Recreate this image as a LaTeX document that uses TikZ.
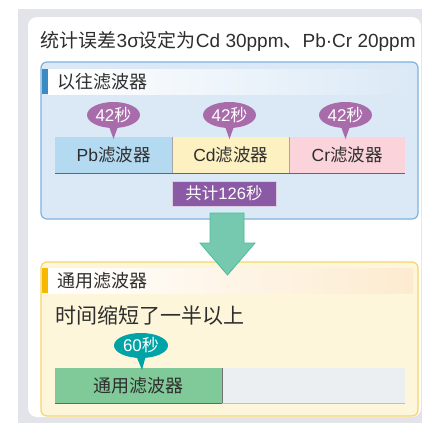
\documentclass[tikz,border=0pt]{standalone}
\usepackage{fontspec}
\setmainfont{Liberation Sans}
\newfontfamily\cjk{Noto Sans CJK SC}
\usetikzlibrary{calc,shapes.geometric}
\definecolor{graybg}{HTML}{E3E4E9}
\definecolor{txt}{HTML}{2E2E2E}
\definecolor{bluefill}{HTML}{DBE9F6}
\definecolor{blueedge}{HTML}{7FB2DE}
\definecolor{bluebar}{HTML}{3B8AC4}
\definecolor{bubpurple}{HTML}{A96CAA}
\definecolor{sumpurple}{HTML}{8B5AA5}
\definecolor{pbc}{HTML}{B4DAF2}
\definecolor{cdc}{HTML}{FDF1C2}
\definecolor{crc}{HTML}{FBD3DB}
\definecolor{arrowfill}{HTML}{76C9AE}
\definecolor{arrowedge}{HTML}{45BF97}
\definecolor{yelfill}{HTML}{FDF6DA}
\definecolor{yeledge}{HTML}{F6D56A}
\definecolor{yelbar}{HTML}{F7B900}
\definecolor{yelband}{HTML}{FDEBD0}
\definecolor{tealc}{HTML}{00A3A6}
\definecolor{greenbar}{HTML}{80C998}
\definecolor{restbar}{HTML}{ECEFF2}
\tikzset{
  barbox/.style={rectangle, anchor=north west, minimum height=36, inner sep=0pt, text=txt, font=\fontsize{17.5}{19}\selectfont},
  bubble/.style={ellipse, minimum width=53, minimum height=26, inner sep=0pt, text=white, font=\fontsize{17}{19}\selectfont},
  headtext/.style={anchor=west, inner sep=0pt, text=txt, font=\fontsize{18}{20}\selectfont\cjk},
}
\begin{document}
\begin{tikzpicture}[x=1pt,y=-1pt]
\useasboundingbox (0,0) rectangle (422,423);
\fill[graybg] (18,9) rectangle (422,423);
\fill[white, rounded corners=9pt] (28,17) rectangle (421,417);
% title
\node[anchor=west, inner sep=0pt, text=txt, font=\fontsize{19}{21}\selectfont] (title) at (40.5,41)
  {{\cjk 统计误差}3σ{\cjk 设定为}Cd 30ppm{\cjk 、}Pb·Cr 20ppm};
% blue box
\filldraw[fill=bluefill, draw=blueedge, line width=1.2pt, rounded corners=6pt] (41,62) rectangle (418,219);
\shade[left color=white, right color=bluefill] (48,69) rectangle (413,94);
\fill[bluebar] (41.6,69) rectangle (48,94);
\node[headtext] (h1) at (57,82) {以往滤波器};
% bars
\node[barbox, fill=pbc, minimum width=117] (pb) at (55,137) {Pb{\cjk 滤波器}};
\node[barbox, fill=cdc, minimum width=117] (cd) at (172,137) {Cd{\cjk 滤波器}};
\node[barbox, fill=crc, minimum width=116] (cr) at (289,137) {Cr{\cjk 滤波器}};
\draw[gray!70, line width=0.8pt] (pb.north east) -- (pb.south east);
\draw[gray!70, line width=0.8pt] (cd.north east) -- (cd.south east);
\draw[black!60, line width=1.5pt] (pb.south west) -- (cr.south east);
% bubbles
\foreach \b/\bar/\cx in {b1/pb/113.5, b2/cd/229.5, b3/cr/345.5}{
  \node[bubble, fill=bubpurple] (\b) at (\cx,115) {42{\cjk 秒}};
  \fill[bubpurple] ($(\b.south)+(-5,-3)$) -- ($(\b.south)+(5,-3)$) -- ($(\b.south |- \bar.north)+(0,2)$) -- cycle;
}
% total
\node[rectangle, fill=sumpurple, draw=white!70!sumpurple, line width=0.6pt, minimum width=104, minimum height=25, inner sep=0pt, text=white, font=\fontsize{16.5}{18}\selectfont] (sum) at (224,193.5) {{\cjk 共计}126{\cjk 秒}};
% yellow box
\filldraw[fill=yelfill, draw=yeledge, line width=1.2pt, rounded corners=6pt] (41,262) rectangle (418,416);
\shade[left color=white, right color=yelband] (48,268) rectangle (413,293);
\fill[yelbar] (41.6,268) rectangle (48,293);
\node[headtext] (h2) at (57,281) {通用滤波器};
\node[anchor=west, inner sep=0pt, text=txt, font=\fontsize{21}{23}\selectfont\cjk] (msg) at (55,316) {时间缩短了一半以上};
% general filter bar
\node[barbox, fill=greenbar, minimum width=167, minimum height=35, font=\fontsize{18}{20}\selectfont] (gen) at (55,368) {\cjk 通用滤波器};
\node[barbox, fill=restbar, minimum width=183, minimum height=35] (rest) at (222,368) {};
\draw[black!55, line width=1pt] (gen.north east) -- (gen.south east);
\draw[black!60, line width=1.5pt] (gen.south west) -- (gen.south east);
\draw[black!25, line width=1.5pt] (rest.south west) -- (rest.south east);
\node[bubble, fill=tealc, minimum width=54, minimum height=25] (b4) at (141,345.5) {60{\cjk 秒}};
\fill[tealc] ($(b4.south)+(-5,-3)$) -- ($(b4.south)+(5,-3)$) -- ($(b4.south |- gen.north)+(1,2)$) -- cycle;
% arrow
\filldraw[fill=arrowfill, draw=arrowedge, line width=0.8pt, line join=miter]
  (210,213) -- (244,213) -- (244,243) -- (255,243) -- (227.5,275) -- (200,243) -- (210,243) -- cycle;
\end{tikzpicture}
\end{document}
